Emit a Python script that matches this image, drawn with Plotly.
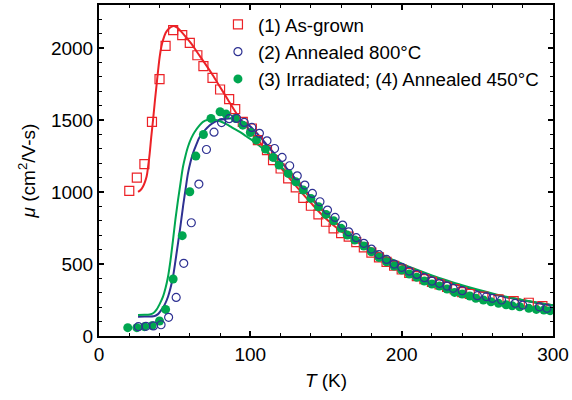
import plotly.graph_objects as go

# ---- data ----
# (1) As-grown, red squares
t1 = [20, 25, 30, 35, 40, 44, 49, 55, 60, 65, 69, 75, 80, 86, 90, 95,
      101, 105, 111, 115, 120, 125, 130, 135, 140, 145, 150, 155, 160,
      165, 170, 175, 180, 185, 190, 195, 200, 205, 210, 215, 220, 225,
      230, 235, 240, 245, 254, 264, 274, 284, 293]
mu1 = [1009, 1100, 1194, 1488, 1785, 2016, 2125, 2090, 2037, 1951, 1875, 1794, 1713, 1646, 1576, 1488,
       1442, 1361, 1292, 1222, 1164, 1095, 1033, 960, 905, 845, 794, 748, 715,
       690, 652, 616, 580, 546, 515, 488, 462, 438, 416, 395, 376, 359,
       342, 326, 305, 292, 273, 255, 243, 231, 208]

# (2) Annealed 800 C, blue open circles
t2 = [26, 31, 36, 41, 46, 51, 56, 61, 66, 71, 76, 81, 86, 91, 96, 101, 106, 111,
      116, 121, 126, 131, 136, 141, 146, 151, 156, 161, 165, 170, 175, 180, 185,
      190, 195, 200, 205, 210, 215, 220, 225, 230, 234, 240, 250, 256, 260, 266,
      275, 280, 291, 296]
mu2 = [65, 67, 70, 78, 130, 268, 505, 787, 1056, 1296, 1416, 1483, 1510, 1512, 1484, 1449, 1408, 1356,
       1303, 1241, 1183, 1113, 1049, 991, 933, 875, 824, 771, 724, 683, 644, 604, 565,
       532, 500, 477, 451, 428, 405, 382, 366, 347, 331, 315, 280, 273, 262, 250,
       227, 215, 203, 192]

# (3) Irradiated; (4) Annealed 450 C, green filled circles
t3 = [19, 25, 30, 35, 40, 44, 49, 55, 60, 64, 69, 74, 80, 84, 90, 95, 100, 104,
      110, 115, 119, 125, 130, 135, 140, 145, 150, 155, 160, 164, 169, 175, 180,
      185, 190, 195, 200, 205, 210, 215, 220, 225, 230, 235, 240, 245, 249, 254,
      259, 264, 269, 273, 278, 284, 289, 294, 298]
mu3 = [58, 58, 65, 72, 104, 185, 396, 697, 1002, 1250, 1400, 1512, 1558, 1542, 1512, 1465, 1414, 1361,
       1299, 1241, 1188, 1130, 1072, 1014, 956, 898, 845, 801, 748, 701, 667, 625, 585,
       546, 516, 486, 458, 431, 408, 382, 361, 347, 326, 303, 292, 278, 262, 250,
       238, 227, 217, 210, 203, 192, 185, 181, 176]

# fitted curves
ft1 = [25.8, 27.5, 29, 30.5, 31.5, 32.5, 33.5, 34.5, 35.7, 37, 38, 39, 40.1, 41.2, 42.3, 44, 45.6,
       48, 50, 52, 54.5, 58, 61, 65, 70, 75, 80, 85, 90, 95, 100, 110, 120, 130, 140, 150,
       160, 170, 180, 190, 200, 210, 220, 230, 240, 250, 260, 270, 280, 290, 300]
fm1 = [1002, 1015, 1037, 1075, 1110, 1180, 1269, 1380, 1500, 1640, 1740, 1840, 1940, 2010, 2056, 2105, 2130,
       2150, 2153, 2140, 2113, 2070, 2032, 1970, 1894, 1815, 1730, 1645, 1560, 1485, 1425, 1298, 1170, 1045, 925, 815,
       728, 657, 596, 543, 498, 455, 415, 378, 346, 317, 291, 268, 248, 230, 213]

ft2 = [25.8, 30, 36.8, 39, 41.2, 43.5, 45.6, 47.3, 48.9, 50.5, 52.2, 53.9, 55.5, 57.2, 58.8, 60.5,
       62.1, 64.3, 66.6, 70, 73.2, 76.5, 79.8, 84, 88.6, 93, 97.4, 102, 110, 120, 130, 140, 150,
       160, 170, 180, 190, 200, 210, 220, 230, 240, 250, 260, 270, 280, 290, 300]
fm2 = [134, 135, 139, 152, 181, 220, 273, 335, 412, 520, 644, 770, 898, 1020, 1130, 1210,
       1269, 1330, 1384, 1430, 1465, 1488, 1500, 1510, 1512, 1498, 1477, 1435, 1340, 1215, 1090, 965, 850,
       755, 673, 603, 545, 498, 455, 415, 378, 346, 317, 291, 268, 248, 230, 212]

ft3 = [25.8, 30, 33.5, 36, 37.9, 40, 42.3, 44, 45.6, 47.3, 48.9, 50.5, 52.2, 53.9, 55.5, 57.2,
       58.8, 61, 63.3, 66, 68.7, 72, 75.3, 80, 84.2, 88, 93, 97, 101.8, 110.6, 120, 130, 140, 150,
       160, 170, 180, 190, 200, 210, 220, 230, 240, 250, 260, 270, 280, 290, 300]
fm3 = [146, 147, 150, 160, 181, 220, 273, 335, 412, 530, 667, 810, 944, 1065, 1176, 1255,
       1315, 1375, 1419, 1458, 1488, 1502, 1505, 1492, 1472, 1448, 1419, 1390, 1356, 1280, 1180, 1070, 955, 848,
       755, 675, 607, 550, 503, 460, 421, 386, 353, 323, 296, 271, 250, 231, 213]

names = ["(1) As-grown", "(2) Annealed 800°C", "(3) Irradiated; (4) Annealed 450°C"]

RED = "#ec2227"
BLUE = "#2e3192"
GREEN = "#00a650"
FONT = "Liberation Sans, Arial, sans-serif"

fig = go.Figure()
fig.add_trace(go.Scatter(x=ft1, y=fm1, mode="lines", line=dict(color=RED, width=2, shape="spline"),
                         showlegend=False, hoverinfo="skip"))
fig.add_trace(go.Scatter(x=ft2, y=fm2, mode="lines", line=dict(color=BLUE, width=2, shape="spline"),
                         showlegend=False, hoverinfo="skip"))
fig.add_trace(go.Scatter(x=ft3, y=fm3, mode="lines", line=dict(color=GREEN, width=2, shape="spline"),
                         showlegend=False, hoverinfo="skip"))
fig.add_trace(go.Scatter(x=t1, y=mu1, mode="markers", name=names[0], legendrank=1,
                         marker=dict(symbol="square-open", size=9, color=RED, line=dict(width=1.2, color=RED))))
fig.add_trace(go.Scatter(x=t3, y=mu3, mode="markers", name=names[2], legendrank=3,
                         marker=dict(symbol="circle", size=9, color=GREEN, line=dict(width=0))))
fig.add_trace(go.Scatter(x=t2, y=mu2, mode="markers", name=names[1], legendrank=2,
                         marker=dict(symbol="circle-open", size=8, color=BLUE, line=dict(width=1.2, color=BLUE))))

axis_common = dict(showline=True, linecolor="black", linewidth=2, mirror="ticks",
                   ticks="inside", ticklen=5, tickwidth=1.5, tickcolor="black",
                   showgrid=False, zeroline=False,
                   tickfont=dict(family=FONT, size=19, color="black"))

fig.update_xaxes(range=[0, 300], dtick=100, tick0=0,
                 minor=dict(dtick=20, ticks="inside", ticklen=3, tickcolor="black", tickwidth=1.2),
                 title=dict(text="<i>T</i> (K)", font=dict(family=FONT, size=19, color="black"), standoff=10),
                 **axis_common)
fig.update_yaxes(range=[0, 2300], dtick=500, tick0=0,
                 minor=dict(dtick=100, ticks="inside", ticklen=3, tickcolor="black", tickwidth=1.2),
                 title=dict(text="<i>μ</i> (cm<sup>2</sup>/V-s)", font=dict(family=FONT, size=19, color="black"), standoff=10),
                 **axis_common)

fig.update_layout(
    width=572, height=400,
    margin=dict(l=99, r=19, t=5, b=64, autoexpand=False),
    paper_bgcolor="white", plot_bgcolor="white",
    font=dict(family=FONT, color="black"),
    legend=dict(x=0.262, y=0.998, xanchor="left", yanchor="top", bgcolor="rgba(0,0,0,0)",
                font=dict(family=FONT, size=18.7, color="black"), itemwidth=30,
                tracegroupgap=0),
)

fig.write_html("out.html", config={"displayModeBar": False},
               post_script="document.body.style.margin='0';document.body.style.padding='0';")
